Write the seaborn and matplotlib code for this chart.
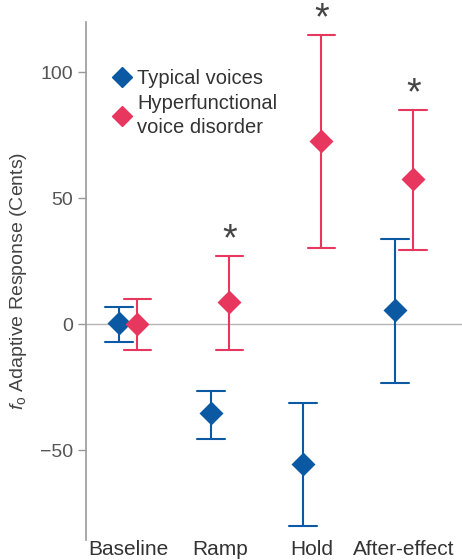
import numpy as np
import pandas as pd
import matplotlib
matplotlib.use("Agg")
import matplotlib.pyplot as plt
from matplotlib.lines import Line2D
import seaborn as sns

# Valeurs (moyenne et bornes des barres d'erreur)
phases = ["Baseline", "Ramp", "Hold", "After-effect"]
groups = ["Typical voices", "Hyperfunctional\nvoice disorder"]
typical_mean = [0.5, -35.3, -55.6, 5.6]
typical_lo = [-7.0, -45.6, -80.0, -23.4]
typical_hi = [7.0, -26.6, -31.3, 33.7]
hyper_mean = [0.3, 8.7, 72.6, 57.5]
hyper_lo = [-10.3, -10.3, 30.2, 29.4]
hyper_hi = [10.0, 27.0, 114.7, 85.0]
significant = [False, True, True, True]

colors = ["#0b59a3", "#e8375f"]

# Table longue : trois lignes par point (borne basse, moyenne, borne haute)
# -> médiane = moyenne, intervalle pi 100 = barres d'erreur
rows = []
for g, (m, lo, hi) in zip(groups, [(typical_mean, typical_lo, typical_hi),
                                     (hyper_mean, hyper_lo, hyper_hi)]):
    for i, p in enumerate(phases):
        for v in (lo[i], m[i], hi[i]):
            rows.append({"phase": p, "group": g, "value": v})
df = pd.DataFrame(rows)

sns.set_style("white")
plt.rcParams["font.family"] = ["Liberation Sans", "DejaVu Sans"]
plt.rcParams["mathtext.fontset"] = "custom"
plt.rcParams["mathtext.it"] = "Liberation Sans:italic"
plt.rcParams["mathtext.rm"] = "Liberation Sans"

fig = plt.figure(figsize=(4.62, 5.6), dpi=100)
ax = fig.add_axes([0.186, 0.036, 0.814, 0.925])

ax.axhline(0, color="#b5b5b5", lw=1.0, zorder=0)

sns.pointplot(data=df, x="phase", y="value", hue="group", order=phases,
              hue_order=groups, estimator="median", errorbar=("pi", 100),
              dodge=0.2, markers="D", linestyles="none", palette=colors,
              capsize=0.3, err_kws={"linewidth": 1.5}, markersize=10,
              legend=False, ax=ax)

# Astérisques de significativité
for i, sig in enumerate(significant):
    if sig:
        ax.text(i + 0.1, hyper_hi[i] - 1, "*", ha="center", va="bottom",
                fontsize=27, color="#444444", clip_on=False)

ax.set_xlim(-0.46, 3.63)
ax.set_ylim(-85.5, 120)
ax.set_yticks([-50, 0, 50, 100])
ax.set_yticklabels(["\u221250", "0", "50", "100"])
ax.tick_params(axis="y", left=True, length=6, width=1, color="#999999",
               labelsize=14, labelcolor="#555555", pad=3)
ax.tick_params(axis="x", bottom=False, length=0, labelsize=15,
               labelcolor="#333333", pad=0)
ax.set_xlabel("")
ax.set_ylabel(r"$f_{\mathrm{o}}$ Adaptive Response (Cents)", fontsize=14,
              color="#444444", labelpad=8)

for s in ["top", "right", "bottom"]:
    ax.spines[s].set_visible(False)
ax.spines["left"].set_color("#999999")
ax.spines["left"].set_linewidth(1.2)

handles = [Line2D([], [], marker="D", ls="none", color=c, markersize=10)
           for c in colors]
leg = ax.legend(handles, groups, loc="upper left", bbox_to_anchor=(0.015, 0.944),
                frameon=False, fontsize=14.5, handletextpad=0.15,
                labelspacing=0.3, handlelength=1.2, labelcolor="#333333")
for t in leg.get_texts():
    t.set_linespacing(1.3)

fig.savefig("out.png", dpi=100)
